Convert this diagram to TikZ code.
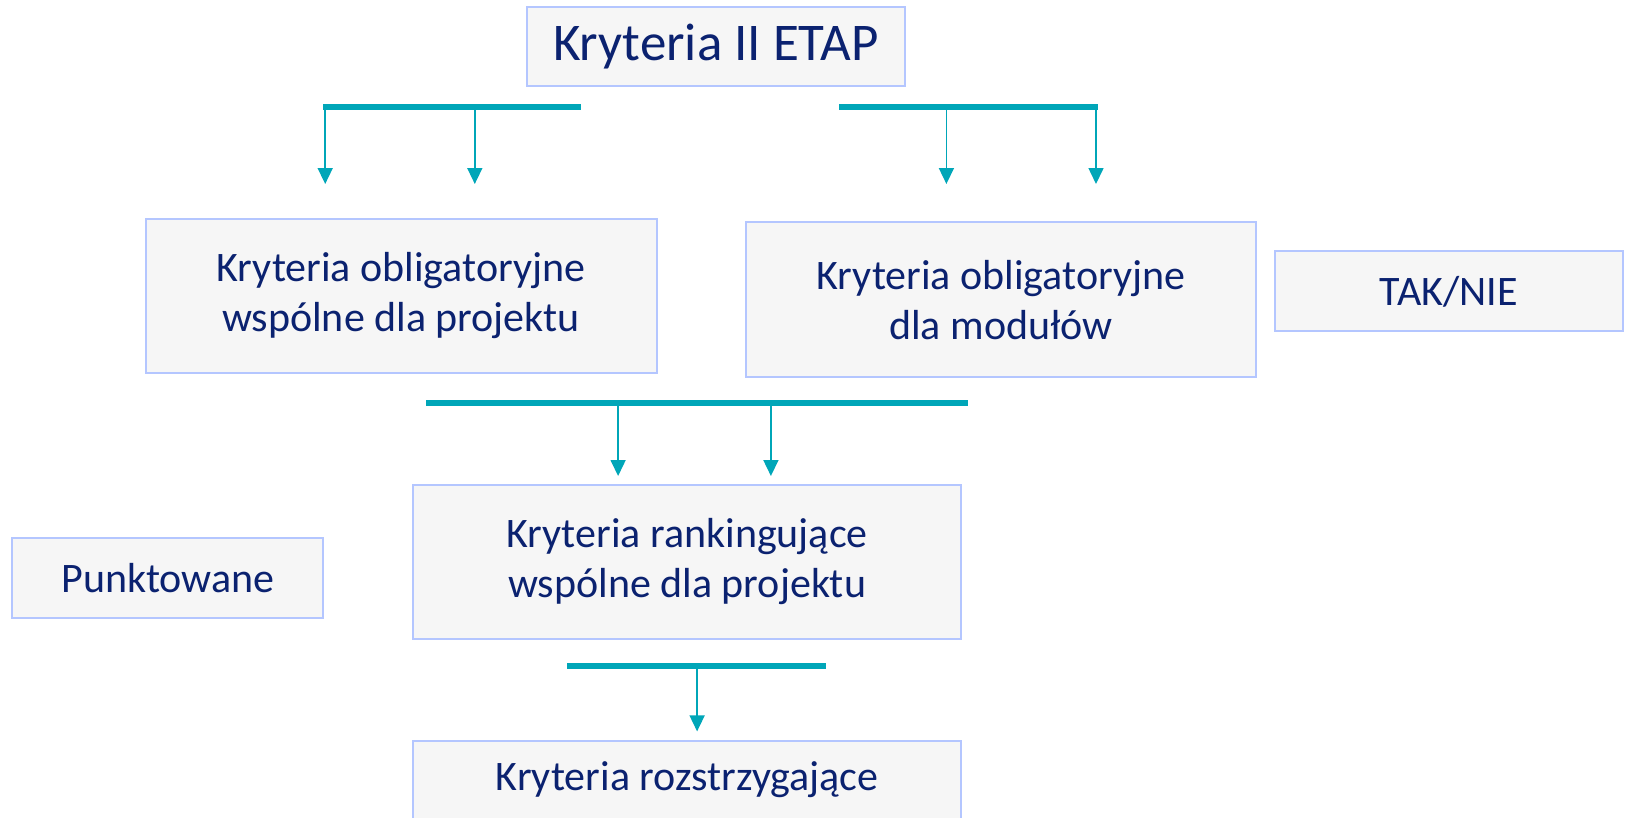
\documentclass[tikz,border=0pt]{standalone}
\usepackage{fontspec}
\setmainfont{Carlito}
\usetikzlibrary{arrows.meta}
\definecolor{navy}{HTML}{0B2270}
\definecolor{boxline}{HTML}{B4C6FF}
\definecolor{boxfill}{HTML}{F6F6F6}
\definecolor{teal}{HTML}{00A6B8}
\begin{document}
\begin{tikzpicture}[x=1pt,y=-1pt,
  cbox/.style={draw=boxline,fill=boxfill,line width=2pt,inner sep=0pt,align=center,text=navy,font=\fontsize{42}{50}\selectfont},
  bar/.style={teal,line width=6pt},
  arr/.style={teal,line width=1.6pt,-{Triangle[width=15pt,length=16pt]}}]
\useasboundingbox (0,0) rectangle (1629,817);
\clip (0,0) rectangle (1629,817);
% boxes
\node[cbox,minimum width=378pt,minimum height=79pt,font=\fontsize{53}{60}\selectfont] (top) at (715.8,46.8) {Kryteria II ETAP};
\node[cbox,minimum width=511pt,minimum height=154pt] (obw) at (401,296) {Kryteria obligatoryjne\\wspólne dla projektu};
\node[cbox,minimum width=510pt,minimum height=155pt] (obm) at (1001,299.7) {Kryteria obligatoryjne\\dla modułów};
\node[cbox,minimum width=348pt,minimum height=80pt] (tak) at (1448.7,291.4) {TAK/NIE};
\node[cbox,minimum width=311pt,minimum height=80pt] (pkt) at (167.8,578.1) {Punktowane};
\node[cbox,minimum width=547.5pt,minimum height=154pt] (rank) at (687.2,562) {Kryteria rankingujące\\wspólne dla projektu};
\node[cbox,minimum width=547.5pt,minimum height=154pt,anchor=north] (roz) at (687.2,739.7) {};
\node[text=navy,font=\fontsize{42}{50}\selectfont] (rozt) at (687.2,780) {Kryteria rozstrzygające};
% bars
\coordinate (b1l) at (323.1,107); \coordinate (b1r) at (580.7,107);
\coordinate (b2l) at (839.4,107); \coordinate (b2r) at (1098.1,107);
\coordinate (b3l) at (426,403.1); \coordinate (b3r) at (968.3,403.1);
\coordinate (b4l) at (567.2,665.9); \coordinate (b4r) at (825.9,665.9);
\draw[bar] (b1l) -- (b1r);
\draw[bar] (b2l) -- (b2r);
\draw[bar] (b3l) -- (b3r);
\draw[bar] (b4l) -- (b4r);
% arrows
\coordinate (a1s) at (325.2,110); \coordinate (a1e) at (325.2,184);
\coordinate (a2s) at (474.8,110); \coordinate (a2e) at (474.8,184);
\coordinate (a3s) at (946.4,110); \coordinate (a3e) at (946.4,184);
\coordinate (a4s) at (1096,110); \coordinate (a4e) at (1096,184);
\coordinate (a5s) at (618.1,406); \coordinate (a5e) at (618.1,476);
\coordinate (a6s) at (770.9,406); \coordinate (a6e) at (770.9,476);
\coordinate (a7s) at (697.1,669); \coordinate (a7e) at (697.1,731.4);
\foreach \i in {1,...,7} {\draw[arr] (a\i s) -- (a\i e);}
\end{tikzpicture}
\end{document}
